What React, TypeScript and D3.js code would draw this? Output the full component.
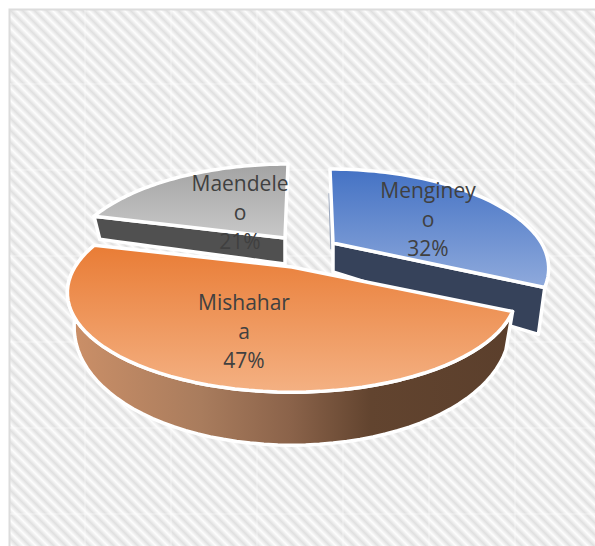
import React from 'react';
import * as d3 from 'd3';

const categories = ['Menginey', 'Mishahara', 'Maendeleo'];
const shares = [32, 47, 21];
// labels wrap inside the slice like in the source picture
const labelLines = [['Menginey', 'o', '32%'], ['Mishahar', 'a', '47%'], ['Maendele', 'o', '21%']];
const labelAnchors: [number, number][] = [[428, 198], [244, 310], [240, 191]];
const topColors = [['#4472c4', '#8faadc'], ['#e97c35', '#f4b183'], ['#a3a3a3', '#c8c8c8']];
const cutColors = ['#36425a', '#5b3f2c', '#505050'];

// exploded slice geometry, one entry per slice
const apexes: [number, number][] = [[333, 243], [292, 267], [285, 238]];
const sliceScale = [0.965, 1.005, 0.975];
const depthBase = [29, 28, 26];
const depthSlope = [42, 25, 12];
const lean = [-3, 0, 3];

const width = 595;
const height = 546;
const rx = 216;
const ry = 93;
const persp = 0.257;
const tile = 86;

const pie = d3.pie<number>().sort(null).value(d => d);
const arcs = pie(shares);
const deg = d3.scaleLinear().domain([0, 1]);

// point on the tilted disc: a = clockwise angle from the back, r = 0..1
const project = (i: number, a: number, r: number, low = false): [number, number] => {
  const apex = apexes[i];
  const u = Math.sin(a) * r;
  const v = -Math.cos(a) * r;
  const s = 1 / (1 - persp * v);
  const x = apex[0] + rx * sliceScale[i] * u * s + lean[i] * Math.max(0, -v);
  const y = apex[1] + ry * v * s;
  if (!low) return [x, y];
  return [apex[0] + (x - apex[0]) * 0.97, y + depthBase[i] + depthSlope[i] * v];
};

const line = d3.line();

const angles = (a0: number, a1: number) => {
  const t = deg.range([a0, a1]);
  return d3.range(0, 61).map(i => t(i / 60));
};

const topPath = (i: number) => {
  const { startAngle, endAngle } = arcs[i];
  return line([apexes[i], ...angles(startAngle, endAngle).map(a => project(i, a, 1))]) + 'Z';
};

// the flat cut face seen from the front, along one slice edge
const cutPath = (i: number, a: number) => {
  const rs = d3.range(0, 11).map(k => k / 10);
  const up = rs.map(r => project(i, a, r));
  const down = rs.map(r => project(i, a, r, true)).reverse();
  return line([...up, ...down]) + 'Z';
};

const wallPath = (i: number, a0: number, a1: number) => {
  const as = angles(a0, a1);
  const up = as.map(a => project(i, a, 1));
  const down = as.map(a => project(i, a, 1, true)).reverse();
  return line([...up, ...down]) + 'Z';
};

// thin sliver of the blue slice's back cut, just left of its top face
const sliverPath = () => {
  const a = project(0, arcs[0].startAngle, 0.62);
  const b = project(0, arcs[0].startAngle, 0.02);
  return line([[a[0] - 2, a[1]], [b[0] - 2, b[1] + 8]]);
};

const seams = d3.range(0, 7).map(k => 85 + k * tile);
const seamsY = d3.range(0, 6).map(k => 84 + k * tile);

export default function App() {
  return (
    <svg
      width={width}
      height={height}
      style={{ position: 'absolute', left: 0, top: 0, display: 'block' }}
      fontFamily="'Open Sans', sans-serif"
    >
      <defs>
        <linearGradient id="stripes" gradientUnits="userSpaceOnUse" x1={0} y1={0} x2={6} y2={-6} spreadMethod="repeat">
          <stop offset="0" stopColor="#e0e0e0" />
          <stop offset="0.5" stopColor="#fdfdfd" />
          <stop offset="1" stopColor="#e0e0e0" />
        </linearGradient>
        {topColors.map((c, i) => (
          <linearGradient key={i} id={`top${i}`} x1={0} y1={0} x2={0} y2={1}>
            <stop offset="0" stopColor={c[0]} />
            <stop offset="1" stopColor={c[1]} />
          </linearGradient>
        ))}
        <linearGradient id="wall" x1={0} y1={0} x2={1} y2={0}>
          <stop offset="0" stopColor="#cc9068" />
          <stop offset="0.3" stopColor="#a97c5d" />
          <stop offset="0.5" stopColor="#8b634a" />
          <stop offset="0.68" stopColor="#62442f" />
          <stop offset="1" stopColor="#5b3f2c" />
        </linearGradient>
      </defs>

      <rect x={0} y={0} width={width} height={height} fill="#fff" />
      <rect x={9.5} y={9.5} width={width} height={height} fill="url(#stripes)" stroke="#dcdcdc" strokeWidth={2} />
      {seams.map(x => (
        <line key={x} x1={x} x2={x} y1={10} y2={height} stroke="#fff" strokeOpacity={0.5} />
      ))}
      {seamsY.map(y => (
        <line key={y} x1={10} x2={width} y1={y} y2={y} stroke="#fff" strokeOpacity={0.5} />
      ))}

      <path d={sliverPath() as string} stroke="#9aa7bd" strokeWidth={1.5} fill="none" />
      <g stroke="#fff" strokeWidth={3.5} strokeLinejoin="round">
        <path d={cutPath(2, arcs[2].startAngle)} fill={cutColors[2]} />
        <path d={topPath(2)} fill="url(#top2)" />
        <path d={cutPath(0, arcs[0].endAngle)} fill={cutColors[0]} />
        <path d={topPath(0)} fill="url(#top0)" />
        <path d={wallPath(1, arcs[1].startAngle, arcs[1].endAngle)} fill="url(#wall)" />
        <path d={topPath(1)} fill="url(#top1)" />
      </g>

      {categories.map((name, i) => (
        <text key={name} x={labelAnchors[i][0]} y={labelAnchors[i][1]} fontSize={21} fill="#404040" textAnchor="middle">
          {labelLines[i].map((t, k) => (
            <tspan key={k} x={labelAnchors[i][0]} y={labelAnchors[i][1] + k * 29}>{t}</tspan>
          ))}
        </text>
      ))}
    </svg>
  );
}
